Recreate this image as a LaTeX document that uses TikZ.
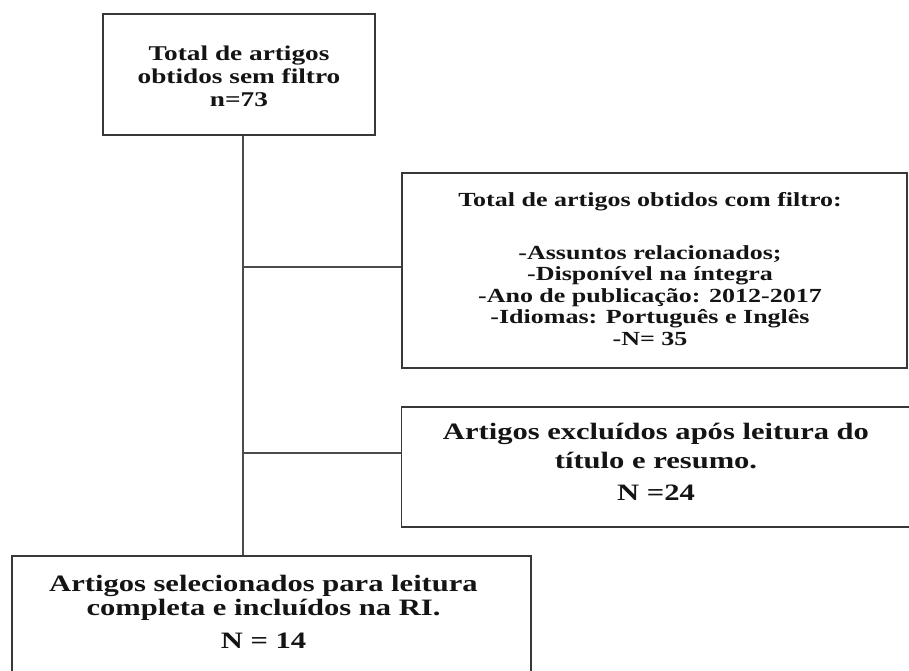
\documentclass[tikz,border=0pt]{standalone}
\usepackage{fontspec}
\newfontfamily\tnr{Liberation Serif}[FakeStretch=1.3]
% centred lines with a fixed baseline distance; the box's baseline is the last line's
\newcommand\tlines[2]{\vbox{\baselineskip=#1\relax\lineskiplimit=-100pt\relax
  \halign{\hfil##\hfil\cr #2\crcr}}}
\begin{document}
\begin{tikzpicture}[x=1pt,y=-1pt,
  box/.style={draw=black!78,line width=1.3pt,rectangle,inner sep=0pt},
  txt/.style={anchor=base,inner sep=0pt,text=black!92},
  conn/.style={draw=black!70,line width=1.3pt}]
\useasboundingbox (0,0) rectangle (909,670);
\clip (0,0) rectangle (909,670);
\fill[white] (0,0) rectangle (909,670);
% boxes
\node[box,minimum width=272pt,minimum height=121pt] (b1) at (239,74.5) {};
\node[box,minimum width=505pt,minimum height=195pt] (b2) at (654.5,270.5) {};
\node[box,minimum width=510pt,minimum height=120pt] (b3) at (656.5,467) {};
\node[box,minimum width=519pt,minimum height=140pt] (b4) at (271.5,626) {};
% texts (anchored at the baseline of their last line)
\node[txt,font=\tnr\bfseries\fontsize{21pt}{23pt}\selectfont] (t1) at (239,106)
  {\tlines{23pt}{Total de artigos\cr obtidos sem filtro\cr n=73}};
\node[txt,font=\tnr\bfseries\fontsize{20pt}{21.5pt}\selectfont] (t2) at (650,345)
  {\tlines{21.5pt}{Total de artigos obtidos com filtro:\cr\noalign{\vskip31.5pt}
   -Assuntos relacionados;\cr -Disponível na íntegra\cr -Ano de publicação: 2012-2017\cr
   -Idiomas: Português e Inglês\cr -N= 35}};
\node[txt,font=\tnr\bfseries\fontsize{23.5pt}{29pt}\selectfont] (t3) at (656,500)
  {\tlines{29pt}{Artigos excluídos após leitura do\cr título e resumo.\cr\noalign{\vskip3pt} N =24}};
\node[txt,font=\tnr\bfseries\fontsize{23.5pt}{24pt}\selectfont] (t4) at (263.5,648)
  {\tlines{24pt}{Artigos selecionados para leitura\cr completa e incluídos na RI.\cr\noalign{\vskip9pt} N = 14}};
% connectors
\coordinate (j2) at (243,267);
\coordinate (j3) at (243,453);
\draw[conn] ([xshift=4pt]b1.south) -- ([xshift=4pt]b1.south |- b4.north);
\draw[conn] (j2) -- (j2 -| b2.west);
\draw[conn] (j3) -- (j3 -| b3.west);
\end{tikzpicture}
\end{document}
